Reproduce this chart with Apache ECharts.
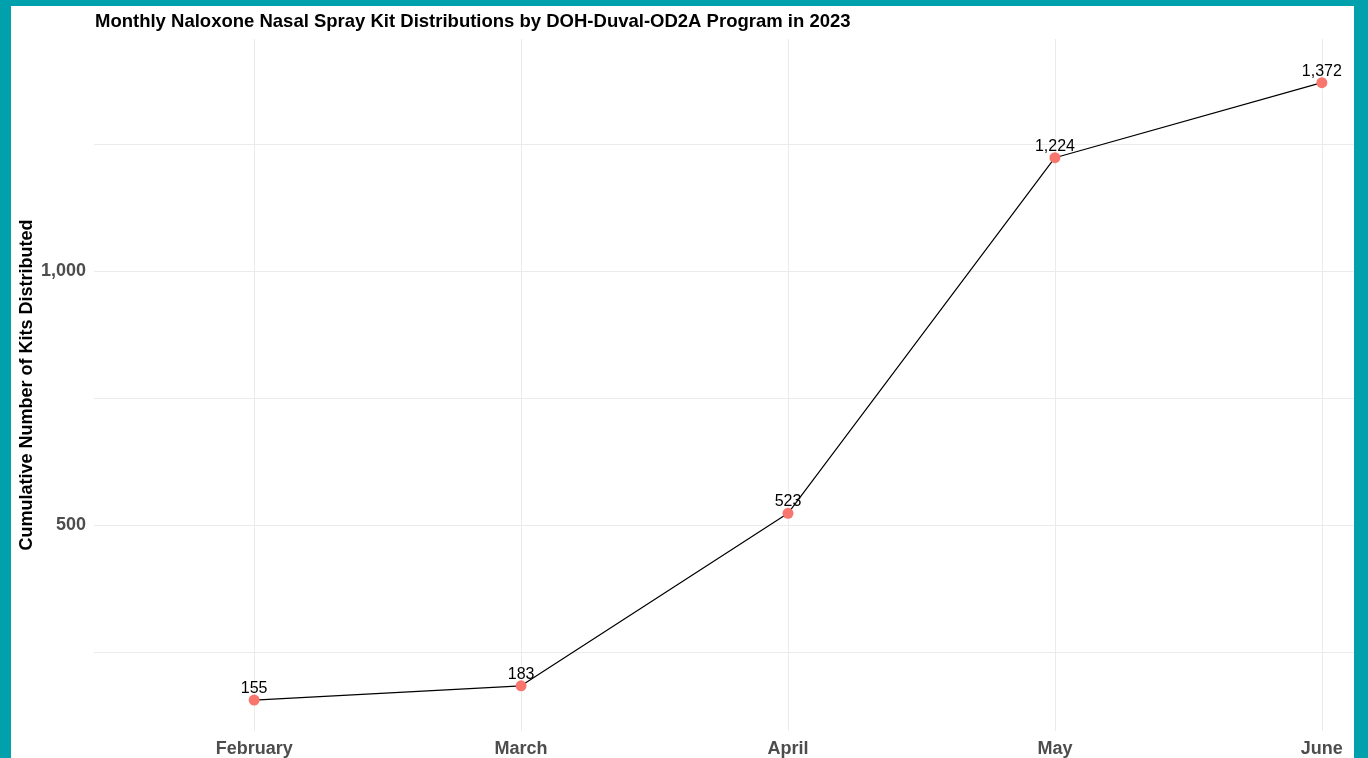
<!DOCTYPE html>
<html>
<head>
<meta charset="utf-8">
<script src="https://cdn.jsdelivr.net/npm/echarts@6/dist/echarts.min.js"></script>
<style>
  html, body { margin: 0; padding: 0; background: #ffffff; overflow: hidden; width: 1368px; height: 758px; }
  #chart { width: 1500px; height: 758px; }
  .frame { position: absolute; background: #00a1ad; pointer-events: none; }
</style>
</head>
<body>
<div id="chart"></div>
<div class="frame" style="left:0;top:0;width:11px;height:758px;"></div>
<div class="frame" style="left:0;top:0;width:1368px;height:6px;"></div>
<div class="frame" style="left:1354px;top:0;width:14px;height:758px;"></div>
<script>
// chart data
const months = ["February", "March", "April", "May", "June"];
const cumulativeKits = [155, 183, 523, 1224, 1372];
const yGridValues = [250, 500, 750, 1000, 1250];
const yLabelValues = [500, 1000];

const chart = echarts.init(document.getElementById("chart"));
const monthIndex = months.map((_, i) => i);
const points = months.map((_, i) => [i, cumulativeKits[i]]);

const fmt = (v) => Number(v).toLocaleString("en-US");

chart.setOption({
  animation: false,
  backgroundColor: "#ffffff",
  title: {
    text: "Monthly Naloxone Nasal Spray Kit Distributions by DOH-Duval-OD2A Program in 2023",
    left: 95,
    top: 12,
    padding: 0,
    textStyle: { fontFamily: "Liberation Sans", fontSize: 18.5, fontWeight: "bold", color: "#000000" },
  },
  grid: { left: 94, top: 39, width: 1388, height: 692 },
  xAxis: {
    type: "value",
    min: -0.6,
    max: 4.6,
    axisLine: { show: false },
    axisTick: { show: false, customValues: monthIndex },
    axisLabel: {
      customValues: monthIndex,
      formatter: (v) => months[Math.round(v)] || "",
      margin: 9,
      fontFamily: "Liberation Sans",
      fontSize: 18,
      fontWeight: "bold",
      color: "#4d4d4d",
    },
    splitLine: { show: true, lineStyle: { color: "#ebebeb", width: 1 } },
  },
  yAxis: {
    type: "value",
    min: 94,
    max: 1458,
    name: "Cumulative Number of Kits Distributed",
    nameLocation: "middle",
    nameGap: 58,
    nameMoveOverlap: false,
    nameTextStyle: { fontFamily: "Liberation Sans", fontSize: 18, fontWeight: "bold", color: "#000000" },
    axisLine: { show: false },
    axisTick: { show: false, customValues: yGridValues },
    axisLabel: {
      customValues: yLabelValues,
      formatter: fmt,
      margin: 8,
      fontFamily: "Liberation Sans",
      fontSize: 18,
      fontWeight: "bold",
      color: "#4d4d4d",
    },
    splitLine: { show: true, lineStyle: { color: "#ebebeb", width: 1 } },
  },
  series: [
    {
      type: "line",
      data: points,
      symbol: "circle",
      symbolSize: 11,
      itemStyle: { color: "#f8766d" },
      lineStyle: { color: "#000000", width: 1.2 },
      label: {
        show: true,
        position: "top",
        distance: -2,
        formatter: (p) => fmt(p.value[1]),
        fontFamily: "Liberation Sans",
        fontSize: 16,
        color: "#000000",
      },
      z: 3,
    },
  ],
});
</script>
</body>
</html>
